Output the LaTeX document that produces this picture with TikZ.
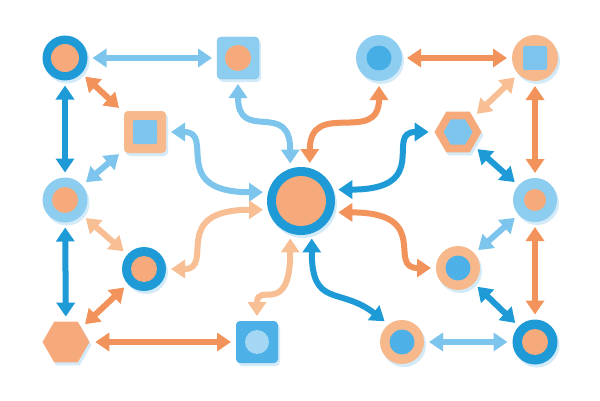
\documentclass[tikz,border=0pt]{standalone}
\usetikzlibrary{arrows.meta,shapes.geometric,shadows}
\definecolor{dkblue}{HTML}{1E9BD7}
\definecolor{ltblue}{HTML}{7DC5EC}
\definecolor{skyfill}{HTML}{8DCDF0}
\definecolor{midblue}{HTML}{4DB1E7}
\definecolor{orng}{HTML}{F2935B}
\definecolor{ltorng}{HTML}{F8BF94}
\definecolor{peach}{HTML}{F6AA7B}
\definecolor{paleorng}{HTML}{F7B88C}
\definecolor{shadowblue}{HTML}{D3EAF8}
\begin{document}
\begin{tikzpicture}[x=1pt,y=1pt,
  link/.style={<->, line width=6pt, >={Triangle[width=18pt,length=14pt]}},
  shd/.style={drop shadow={shadow xshift=2pt, shadow yshift=-3pt, fill=shadowblue, opacity=1}},
  ring/.style={circle, minimum size=45pt, inner sep=0pt, outer sep=5pt, shd},
  core/.style={circle, minimum size=26pt, inner sep=0pt},
  box/.style={rectangle, rounded corners=4pt, minimum size=42pt, inner sep=0pt, outer sep=5pt, shd},
  chip/.style={rectangle, rounded corners=2pt, minimum size=24pt, inner sep=0pt},
  hexa/.style={regular polygon, regular polygon sides=6, minimum size=47pt, inner sep=0pt, outer sep=5pt, shd},
]
\fill[white] (0,0) rectangle (600,400);
\useasboundingbox (0,0) rectangle (600,400);
% left group
\node[ring, fill=dkblue] (nA) at (65,342){};
\node[core, fill=peach, minimum size=28pt] (nA0) at (nA){};
\node[box, fill=skyfill, draw=ltblue] (nB) at (238,342){};
\node[core, fill=peach] (nB0) at (nB){};
\node[box, fill=paleorng] (nC) at (145,268){};
\node[chip, fill=ltblue] (nC0) at (nC){};
\node[ring, fill=skyfill] (nD) at (65,200){};
\node[core, fill=peach] (nD0) at (nD){};
\node[ring, fill=dkblue, minimum size=44pt] (nE) at (144,131){};
\node[core, fill=peach] (nE0) at (nE){};
\node[hexa, fill=peach] (nF) at (66,58){};
\node[box, fill=midblue] (nG) at (257,58){};
\node[core, fill=skyfill!80!white, minimum size=24pt] (nG0) at (nG){};
% hub
\node[ring, fill=dkblue, minimum size=68pt] (nH) at (301,199){};
\node[core, fill=peach, minimum size=50pt] (nH0) at (nH){};
% right group
\node[ring, fill=skyfill, minimum size=46pt] (nI) at (379,342){};
\node[core, fill=midblue!85!dkblue, minimum size=25pt] (nI0) at (nI){};
\node[ring, fill=paleorng, minimum size=46pt] (nJ) at (535,342){};
\node[chip, fill=ltblue] (nJ0) at (nJ){};
\node[hexa, fill=peach] (nK) at (458,268){};
\node[regular polygon, regular polygon sides=6, minimum size=29pt, inner sep=0pt, fill=ltblue] (nK0) at (nK){};
\node[ring, fill=skyfill, minimum size=44pt] (nL) at (535,200){};
\node[core, fill=peach, minimum size=22pt] (nL0) at (nL){};
\node[ring, fill=paleorng, minimum size=44pt] (nM) at (458,132){};
\node[core, fill=midblue, minimum size=25pt] (nM0) at (nM){};
\node[ring, fill=paleorng, minimum size=44pt] (nN) at (402,58){};
\node[core, fill=midblue, minimum size=25pt] (nN0) at (nN){};
\node[ring, fill=dkblue] (nO) at (535,58){};
\node[core, fill=peach] (nO0) at (nO){};
% straight links
\draw[link, ltblue](nA) -- (nB);
\draw[link, dkblue](nA) -- (nD);
\draw[link, orng](nA) -- (nC);
\draw[link, ltblue](nC) -- (nD);
\draw[link, dkblue](nD) -- (nF);
\draw[link, ltorng](nD) -- (nE);
\draw[link, orng](nE) -- (nF);
\draw[link, orng](nF) -- (nG);
\draw[link, orng](nI) -- (nJ);
\draw[link, ltorng](nJ) -- (nK);
\draw[link, orng](nJ) -- (nL);
\draw[link, dkblue](nK) -- (nL);
\draw[link, ltblue](nL) -- (nM);
\draw[link, orng](nL) -- (nO);
\draw[link, dkblue](nM) -- (nO);
\draw[link, ltblue](nN) -- (nO);
% curved links to the hub
\draw[link, ltblue](nB.south) .. controls +(0,-60) and +(0,65) .. (nH.106);
\draw[link, ltblue](nC.east) .. controls +(45,0) and +(-95,0) .. (nH.167);
\draw[link, ltorng](nE.east) .. controls +(45,0) and +(-95,0) .. (nH.193);
\draw[link, ltorng](nG.north) .. controls +(0,35) and +(0,-80) .. (nH.254);
\draw[link, orng](nI.south) .. controls +(0,-60) and +(0,65) .. (nH.77);
\draw[link, dkblue](nK.west) .. controls +(-45,0) and +(95,0) .. (nH.17);
\draw[link, orng](nM.west) .. controls +(-45,0) and +(95,0) .. (nH.343);
\draw[link, dkblue](nH.286) .. controls +(0,-70) and +(-45,35) .. (nN.130);

\end{tikzpicture}
\end{document}
